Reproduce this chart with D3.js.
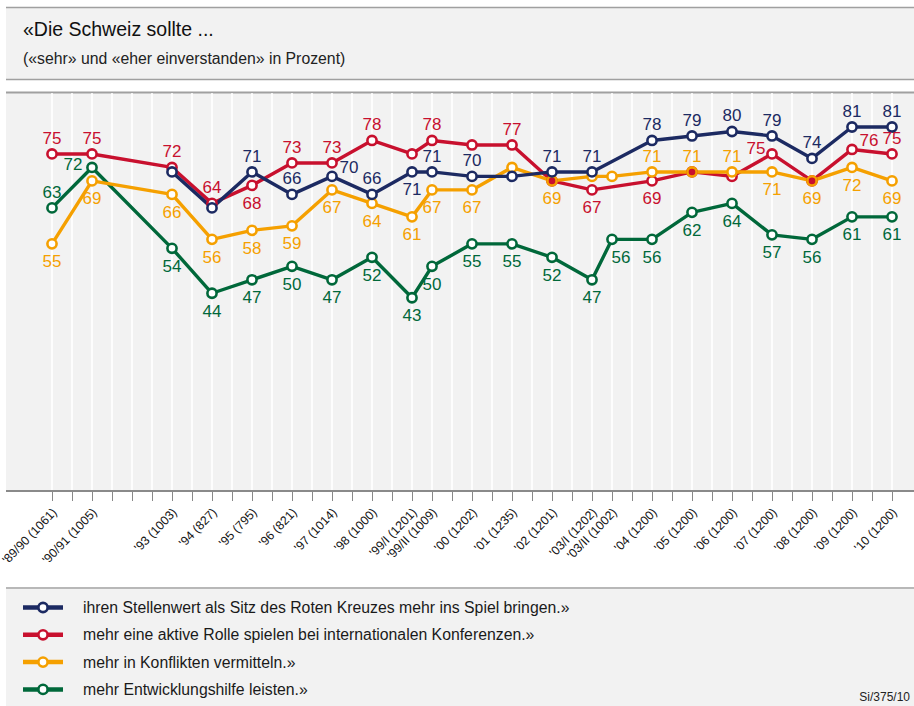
<!DOCTYPE html>
<html>
<head>
<meta charset="utf-8">
<script src="https://cdn.jsdelivr.net/npm/d3@7"></script>
<style>
  body { margin: 0; background: #fff; }
  svg { display: block; font-family: Arial, "Liberation Sans", sans-serif; }
</style>
</head>
<body>
<div id="chart"></div>
<script>
// Befragungen (Welle + Stichprobe)
const umfragen = ["'89/90 (1061)", "'90/91 (1005)", "'93 (1003)", "'94 (827)", "'95 (795)", "'96 (821)",
  "'97 (1014)", "'98 (1000)", "'99/I (1201)", "'99/II (1009)", "'00 (1202)", "'01 (1235)", "'02 (1201)",
  "'03/I (1202)", "'03/II (1002)", "'04 (1200)", "'05 (1200)", "'06 (1200)", "'07 (1200)", "'08 (1200)",
  "'09 (1200)", "'10 (1200)"];
// Stelle der Befragung auf der Zeitachse (Halbjahres-Schritte)
const halbjahr = [0, 2, 6, 8, 10, 12, 14, 16, 18, 19, 21, 23, 25, 27, 28, 30, 32, 34, 36, 38, 40, 42];

const rotesKreuz  = [null, null, 71, 63, 71, 66, 70, 66, 71, 71, 70, 70, 71, 71, null, 78, 79, 80, 79, 74, 81, 81];
const konferenzen = [75, 75, 72, 64, 68, 73, 73, 78, 75, 78, 77, 77, 69, 67, null, 69, 71, 70, 75, 69, 76, 75];
const vermitteln  = [55, 69, 66, 56, 58, 59, 67, 64, 61, 67, 67, 72, 69, 70, 70, 71, 71, 71, 71, 69, 72, 69];
const entwicklung = [63, 72, 54, 44, 47, 50, 47, 52, 43, 50, 55, 55, 52, 47, 56, 56, 62, 64, 57, 56, 61, 61];

// wo die Zahl steht: o = oben, u = unten, ro/lo = schräg oben, l = links, ru = rechts unten, "" = keine
const lblRotesKreuz  = ["", "", "", "", "o", "o", "ro", "o", "u", "o", "o", "", "o", "o", "", "o", "o", "o", "o", "o", "o", "o"];
const lblKonferenzen = ["o", "o", "o", "o", "u", "o", "o", "o", "", "o", "", "o", "", "u", "", "u", "", "", "lo", "", "ro", "o"];
const lblVermitteln  = ["u", "u", "u", "u", "u", "u", "u", "u", "u", "u", "u", "", "u", "", "", "o", "o", "o", "u", "u", "u", "u"];
const lblEntwicklung = ["o", "l", "u", "u", "u", "u", "u", "u", "u", "u", "u", "u", "u", "u", "ru", "u", "u", "u", "u", "u", "u", "u"];

const legendeTexte = [
  "ihren Stellenwert als Sitz des Roten Kreuzes mehr ins Spiel bringen.»",
  "mehr eine aktive Rolle spielen bei internationalen Konferenzen.»",
  "mehr in Konflikten vermitteln.»",
  "mehr Entwicklungshilfe leisten.»"
];

const NAVY = "#1c2a62", ROT = "#c8102e", ORANGE = "#f5a000", GRUEN = "#00683a";

const width = 914, height = 706;
const svg = d3.select("#chart").append("svg")
  .attr("width", width)
  .attr("height", height);

// --- Kopf ---
svg.append("rect").attr("x", 6).attr("y", 8).attr("width", width - 6).attr("height", 71).attr("fill", "#f2f2f2");
svg.append("line").attr("x1", 6).attr("x2", width).attr("y1", 7.5).attr("y2", 7.5).attr("stroke", "#a0a0a0").attr("stroke-width", 1.5);
svg.append("line").attr("x1", 6).attr("x2", width).attr("y1", 79.5).attr("y2", 79.5).attr("stroke", "#a0a0a0").attr("stroke-width", 1.5);
svg.append("text").attr("x", 23).attr("y", 36).attr("font-size", 19.5).attr("fill", "#111").text("«Die Schweiz sollte ...");
svg.append("text").attr("x", 23).attr("y", 64).attr("font-size", 15.8).attr("fill", "#222").text("(«sehr» und «eher einverstanden» in Prozent)");

// --- Plotfläche ---
const plotTop = 93, axisY = 491;
svg.append("rect").attr("x", 6).attr("y", plotTop).attr("width", width - 6).attr("height", axisY - plotTop).attr("fill", "#f2f2f2");
svg.append("line").attr("x1", 6).attr("x2", width).attr("y1", 92.5).attr("y2", 92.5).attr("stroke", "#a0a0a0").attr("stroke-width", 2);

const x = d3.scaleLinear().domain([0, 42]).range([52, 892]);
const y = d3.scaleLinear().domain([0, 100]).range([axisY, axisY - 449.4]);

const tickSteps = d3.range(0, 43);

// weisse Rasterlinien
svg.append("g").selectAll("line")
  .data(tickSteps)
  .join("line")
  .attr("x1", d => x(d)).attr("x2", d => x(d))
  .attr("y1", plotTop).attr("y2", axisY - 1)
  .attr("stroke", "#fff").attr("stroke-width", 1.6);

// x-Achse
const xAxis = d3.axisBottom(x)
  .tickValues(tickSteps)
  .tickSize(10)
  .tickFormat(d => {
    const i = halbjahr.indexOf(d);
    return i >= 0 ? umfragen[i] : "";
  });

const gx = svg.append("g").attr("transform", `translate(0,${axisY})`).call(xAxis);
gx.select(".domain").remove();
gx.selectAll(".tick line").attr("stroke", "#888").attr("stroke-width", 1);
gx.selectAll(".tick text")
  .attr("font-size", 12.3)
  .attr("font-family", "Arial, 'Liberation Sans', sans-serif")
  .attr("fill", "#111")
  .attr("text-anchor", "end")
  .attr("dy", 0)
  .attr("transform", "translate(5,22) rotate(-46)")
  .attr("y", 0).attr("x", 0);

svg.append("line").attr("x1", 6).attr("x2", width).attr("y1", axisY).attr("y2", axisY).attr("stroke", "#8a8a8a").attr("stroke-width", 2.2);
svg.append("line").attr("x1", 6).attr("x2", width).attr("y1", 588).attr("y2", 588).attr("stroke", "#a0a0a0").attr("stroke-width", 1.5);

// --- Reihen ---
const reihen = [
  { werte: entwicklung, lbl: lblEntwicklung, farbe: GRUEN },
  { werte: konferenzen, lbl: lblKonferenzen, farbe: ROT },
  { werte: vermitteln,  lbl: lblVermitteln,  farbe: ORANGE },
  { werte: rotesKreuz,  lbl: lblRotesKreuz,  farbe: NAVY }
];

const offsets = {
  o: [0, -10], u: [0, 23.5], ro: [17, -3], lo: [-16, 0], l: [-19, 2.5], ru: [9, 23.5]
};

const line = d3.line().x(d => x(d.t)).y(d => y(d.v));

const punkteGruppe = svg.append("g");
const labelGruppe = svg.append("g");

reihen.forEach(r => {
  const pts = r.werte.map((v, i) => ({ v, t: halbjahr[i], i, pos: r.lbl[i] })).filter(d => d.v != null);

  svg.insert("path", () => punkteGruppe.node())
    .datum(pts)
    .attr("d", line)
    .attr("fill", "none")
    .attr("stroke", r.farbe)
    .attr("stroke-width", 3.4)
    .attr("stroke-linejoin", "round");

  punkteGruppe.append("g").selectAll("circle")
    .data(pts)
    .join("circle")
    .attr("cx", d => x(d.t))
    .attr("cy", d => y(d.v))
    .attr("r", 4.6)
    .attr("fill", d => (r.farbe === ORANGE && konferenzen[d.i] === d.v) ? ROT : "#fff")
    .attr("stroke", r.farbe)
    .attr("stroke-width", 2.6);

  labelGruppe.append("g").selectAll("text")
    .data(pts.filter(d => d.pos))
    .join("text")
    .attr("x", d => x(d.t) + offsets[d.pos][0])
    .attr("y", d => y(d.v) + offsets[d.pos][1])
    .attr("text-anchor", "middle")
    .attr("font-size", 17)
    .attr("fill", r.farbe)
    .text(d => d.v);
});

// --- Legende ---
svg.append("rect").attr("x", 6).attr("y", 589).attr("width", width - 6).attr("height", height - 589).attr("fill", "#f2f2f2");

const legFarben = [NAVY, ROT, ORANGE, GRUEN];
const leg = svg.append("g").selectAll("g")
  .data(legendeTexte)
  .join("g")
  .attr("transform", (d, i) => `translate(0,${607.5 + i * 27.3})`);

leg.append("line").attr("x1", 23).attr("x2", 63).attr("y1", 0).attr("y2", 0)
  .attr("stroke", (d, i) => legFarben[i]).attr("stroke-width", 4.5);
leg.append("circle").attr("cx", 43).attr("cy", 0).attr("r", 4.6)
  .attr("fill", "#fff").attr("stroke", (d, i) => legFarben[i]).attr("stroke-width", 2.6);
leg.append("text").attr("x", 83).attr("y", 5.5).attr("font-size", 15.8).attr("fill", "#1a1a1a").text(d => d);

svg.append("text").attr("x", 910).attr("y", 701).attr("text-anchor", "end")
  .attr("font-size", 12).attr("fill", "#222").text("Si/375/10");
</script>
</body>
</html>
